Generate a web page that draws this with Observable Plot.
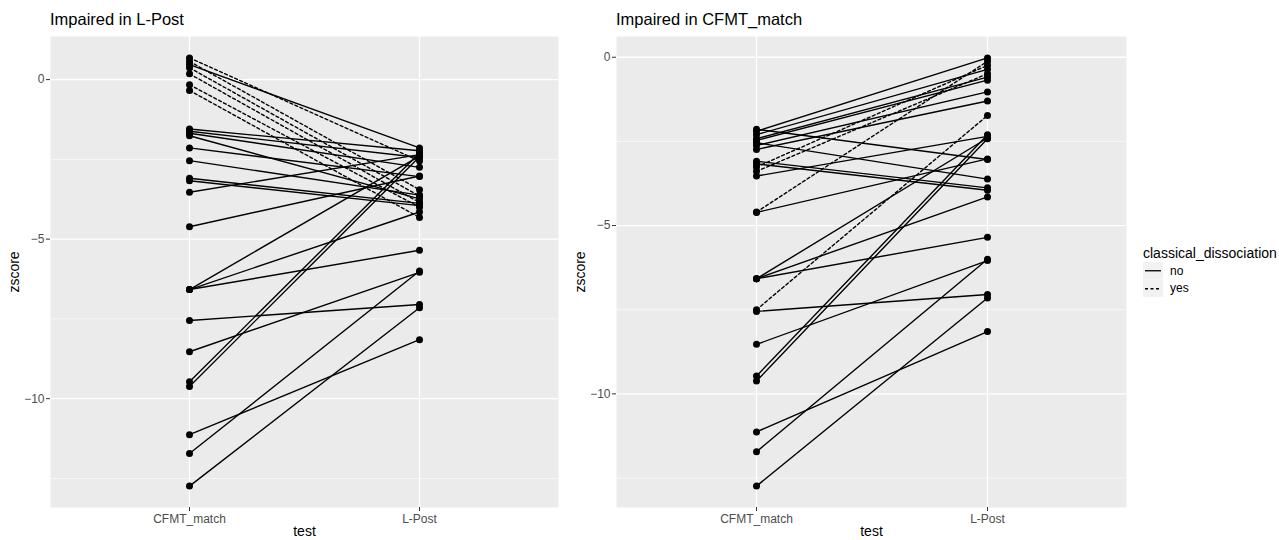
<!DOCTYPE html>
<html><head><meta charset="utf-8">
<script src="https://cdn.jsdelivr.net/npm/d3@7"></script>
<script src="https://cdn.jsdelivr.net/npm/@observablehq/plot@0.6"></script>
<style>
body{margin:0;background:#fff;font-family:"Liberation Sans",Arial,sans-serif;}
#wrap{position:relative;width:1279px;height:540px;overflow:hidden;}
.panel{position:absolute;top:0;}
.ptitle{height:30px;font-size:16.5px;color:#000;line-height:38px;white-space:nowrap;overflow:visible;}
svg [aria-label="y-axis tick label"], svg [aria-label="x-axis tick label"]{fill:#4d4d4d;}
#legend{position:absolute;left:1143px;top:244px;font-size:12px;color:#000;}
#legend .lt{font-size:14px;line-height:18px;height:18px;white-space:nowrap;}
#legend .row{display:flex;align-items:center;height:17.5px;}
#legend .row span{margin-left:7px;}
</style></head>
<body><div id="wrap"></div>
<script>
const tests = ["CFMT_match", "L-Post"];
const cfmt = [0.68, 0.57, 0.47, 0.37, 0.18, -0.16, -0.34, -1.55, -1.62, -1.68, -1.76,
  -2.14, -2.54, -3.09, -3.17, -3.53, -4.61, -6.58, -6.58, -6.58, -7.55, -8.53, -9.47, -9.62, -11.13, -11.72, -12.74,
  -2.2, -2.3, -2.42, -2.47, -2.62, -2.74, -3.26, -3.39, -4.6, -7.5];
const lpost = [-2.55, -3.45, -2.14, -3.65, -3.85, -4.0, -4.32, -2.23, -2.44, -2.75, -3.74,
  -3.04, -3.62, -3.88, -3.95, -2.35, -3.02, -2.4, -4.15, -5.35, -7.05, -6.04, -2.3, -2.42, -8.15, -6.0, -7.15,
  -0.02, -0.36, -0.59, -0.68, -1.03, -1.3, -0.24, -0.49, -0.12, -1.73];
const dissociation = ["yes","yes","no","yes","yes","yes","yes","no","no","no","no",
  "no","no","no","no","no","no","no","no","no","no","no","no","no","no","no","no",
  "no","no","no","no","no","no","yes","yes","yes","yes"];
const yTicksMajor = [0, -5, -10];
const yTicksMinor = [2.5, -2.5, -7.5, -12.5];
const impairCut = -2;

const panels = [
  {title: "Impaired in L-Post", left: 0, width: 565, marginLeft: 50, marginRight: 7, keep: i => lpost[i] < impairCut},
  {title: "Impaired in CFMT_match", left: 565, width: 565, marginLeft: 51, marginRight: 4, keep: i => cfmt[i] < impairCut}
];

const wrap = document.getElementById("wrap");
for (const p of panels) {
  const ids = cfmt.map((_, i) => i).filter(p.keep);
  const long = ids.flatMap(i => [
    {id: i, test: tests[0], z: cfmt[i], d: dissociation[i]},
    {id: i, test: tests[1], z: lpost[i], d: dissociation[i]}
  ]);
  const ext = d3.extent(long, d => d.z);
  const pad = (ext[1] - ext[0]) * 0.05;
  const lo = ext[0] - pad, hi = ext[1] + pad;
  const inDom = t => t >= lo && t <= hi;
  const chart = Plot.plot({
    width: p.width, height: 510,
    marginTop: 6, marginBottom: 33, marginLeft: p.marginLeft, marginRight: p.marginRight,
    style: {fontFamily: "'Liberation Sans', Arial, sans-serif", fontSize: "12px", background: "transparent", overflow: "visible"},
    x: {type: "point", domain: tests, padding: 0.6, label: null},
    y: {domain: [lo, hi], label: null},
    marks: [
      Plot.frame({fill: "#ebebeb", stroke: null}),
      Plot.gridY(yTicksMinor.filter(inDom), {stroke: "white", strokeOpacity: 1, strokeWidth: 0.6}),
      Plot.gridY(yTicksMajor.filter(inDom), {stroke: "white", strokeOpacity: 1, strokeWidth: 1.3}),
      Plot.gridX(tests, {stroke: "white", strokeOpacity: 1, strokeWidth: 1.3}),
      Plot.line(long.filter(d => d.d === "no"), {x: "test", y: "z", z: "id", stroke: "black", strokeWidth: 1.4}),
      Plot.line(long.filter(d => d.d === "yes"), {x: "test", y: "z", z: "id", stroke: "black", strokeWidth: 1.4, strokeDasharray: "3,2.5"}),
      Plot.dot(long, {x: "test", y: "z", r: 3.5, fill: "black", stroke: null}),
      Plot.axisY(yTicksMajor.filter(inDom), {tickSize: 4, tickPadding: 2, color: "#333", fontSize: 12, label: null}),
      Plot.axisX(tests, {tickSize: 4, tickPadding: 3, color: "#333", fontSize: 12, label: null}),
      Plot.text(["zscore"], {frameAnchor: "left", dx: -36, rotate: -90, fontSize: 14, textAnchor: "middle", fill: "black"}),
      Plot.text(["test"], {frameAnchor: "bottom", dy: 28, fontSize: 14, fill: "black"})
    ]
  });
  const div = document.createElement("div");
  div.className = "panel";
  div.style.left = p.left + "px";
  const t = document.createElement("div");
  t.className = "ptitle";
  t.style.paddingLeft = p.marginLeft + "px";
  t.textContent = p.title;
  div.appendChild(t);
  div.appendChild(chart);
  wrap.appendChild(div);
}

// legend
const lg = document.createElement("div");
lg.id = "legend";
lg.innerHTML = `<div class="lt">classical_dissociation</div>`;
for (const [lab, dash] of [["no", null], ["yes", "3,2.5"]]) {
  lg.innerHTML += `<div class="row"><svg width="20" height="17.5"><rect x="0" y="0" width="20" height="17.5" fill="#f2f2f2"/><line x1="2" x2="18" y1="8.75" y2="8.75" stroke="black" stroke-width="1.3" ${dash ? `stroke-dasharray="${dash}"` : ""}/></svg><span>${lab}</span></div>`;
}
wrap.appendChild(lg);
</script>
</body></html>
